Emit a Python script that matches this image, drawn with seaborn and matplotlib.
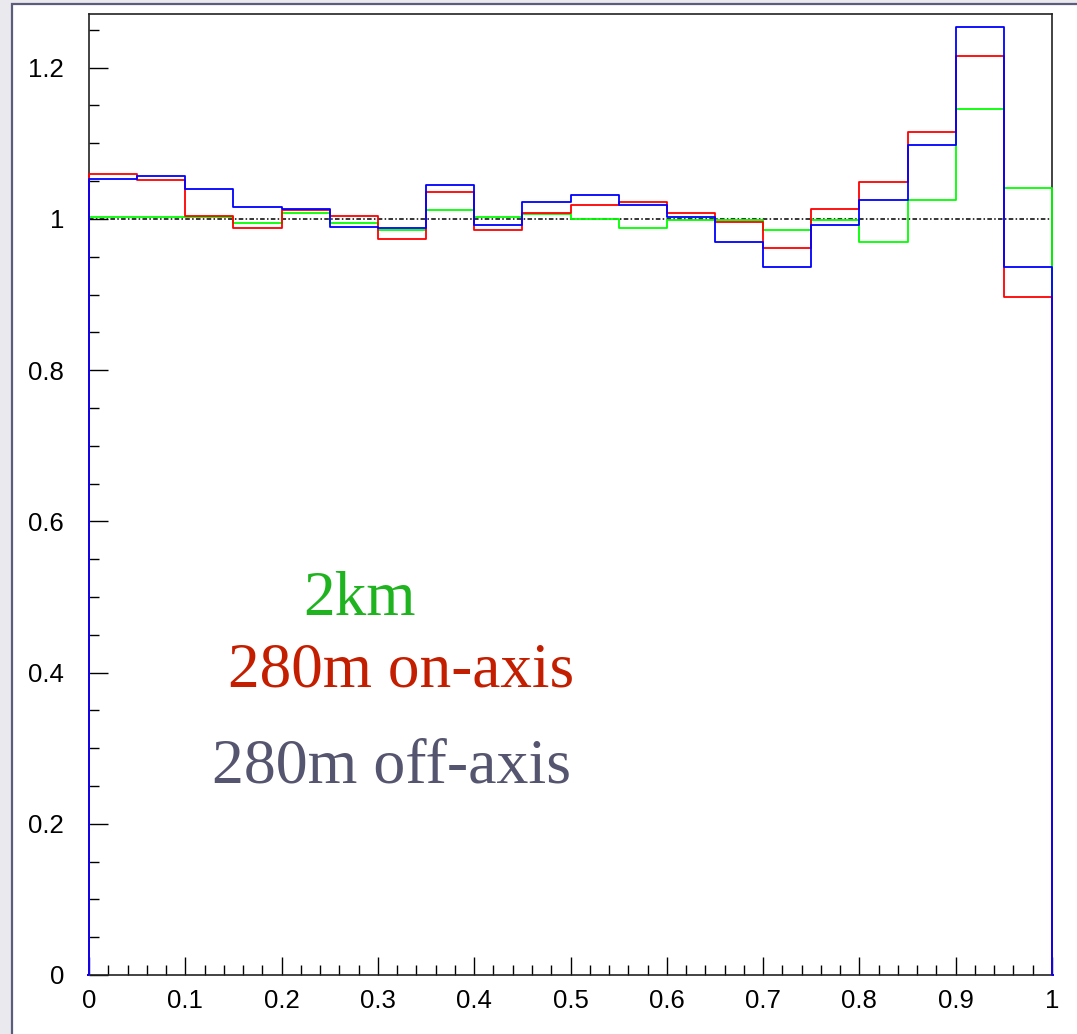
import numpy as np
import pandas as pd
import matplotlib
matplotlib.use("Agg")
import matplotlib.pyplot as plt
from matplotlib.patches import Rectangle
from matplotlib.ticker import MultipleLocator, FuncFormatter
import seaborn as sns

# ---- data (ratio per bin, 20 bins from 0 to 1) ----
bin_centers = [0.025, 0.075, 0.125, 0.175, 0.225, 0.275, 0.325, 0.375, 0.425, 0.475,
               0.525, 0.575, 0.625, 0.675, 0.725, 0.775, 0.825, 0.875, 0.925, 0.975]
ratio_2km = [1.003, 1.003, 1.003, 0.994, 1.008, 0.994, 0.985, 1.012, 1.003, 1.006,
             1.000, 0.988, 0.999, 0.999, 0.985, 0.998, 0.970, 1.025, 1.146, 1.041]
ratio_280m_on = [1.059, 1.051, 1.004, 0.988, 1.012, 1.004, 0.974, 1.035, 0.985, 1.008,
                 1.019, 1.022, 1.008, 0.996, 0.962, 1.013, 1.049, 1.115, 1.216, 0.897]
ratio_280m_off = [1.053, 1.057, 1.039, 1.016, 1.013, 0.989, 0.988, 1.045, 0.992, 1.023,
                  1.031, 1.019, 1.003, 0.970, 0.937, 0.992, 1.025, 1.098, 1.254, 0.937]
series_names = ["2km", "280m on-axis", "280m off-axis"]
line_colors = ["#00ff00", "#ff0000", "#0000ff"]
text_colors = ["#1fb41f", "#c41e00", "#555570"]
x_ticks = [0, 0.1, 0.2, 0.3, 0.4, 0.5, 0.6, 0.7, 0.8, 0.9, 1.0]
y_ticks = [0, 0.2, 0.4, 0.6, 0.8, 1.0, 1.2]

df = pd.DataFrame({"x": bin_centers * 3,
                   "ratio": ratio_2km + ratio_280m_on + ratio_280m_off,
                   "sample": [series_names[0]] * 20 + [series_names[1]] * 20 + [series_names[2]] * 20})

W, H = 1077, 1034
fig = plt.figure(figsize=(W / 100, H / 100), dpi=100)
fig.patch.set_facecolor("#e9e9ee")
# white slide panel with border
fig.patches.append(Rectangle((12 / W, -0.02), 1.05, 1 - 4 / H + 0.02, transform=fig.transFigure,
                             facecolor="white", edgecolor="#5c5c7c", linewidth=1.6, zorder=-10))

ax = fig.add_axes([89 / W, 1 - 975 / H, (1052 - 89) / W, (975 - 14) / H])
ax.set_zorder(5)
ax.set_facecolor("white")

for name, col in zip(series_names, line_colors):
    sub = df[df["sample"] == name]
    sns.histplot(data=sub, x="x", weights="ratio", bins=22, binrange=(-0.05, 1.05),
                 element="step", fill=False, color=col, linewidth=1.3, ax=ax)

# let the outline sit on top of the frame at x=0 and x=1
clip = Rectangle((-0.0018, -0.01), 1.0036, 1.02, transform=ax.transAxes,
                 facecolor="none", edgecolor="none")
ax.add_patch(clip)
for ln in ax.lines:
    ln.set_clip_path(clip)
    ln.set_zorder(3)

ax.axhline(1.0, color="black", linewidth=1.1, linestyle=(0, (3, 1.5, 1, 1.5)), zorder=1)

ax.set_xlim(0, 1)
ax.set_ylim(0, 1.271)
ax.set_xlabel("")
ax.set_ylabel("")

ax.set_xticks(x_ticks)
ax.set_yticks(y_ticks)
ax.xaxis.set_minor_locator(MultipleLocator(0.02))
ax.yaxis.set_minor_locator(MultipleLocator(0.05))
fmt = FuncFormatter(lambda v, p: f"{v:g}")
ax.xaxis.set_major_formatter(fmt)
ax.yaxis.set_major_formatter(fmt)

tick_font = ["Liberation Sans", "DejaVu Sans"]
ax.tick_params(axis="both", which="both", direction="in", top=False, right=False,
               color="black", width=1.0)
ax.tick_params(axis="x", which="major", length=13, pad=10, labelsize=18.5)
ax.tick_params(axis="x", which="minor", length=7)
ax.tick_params(axis="y", which="major", length=14, pad=18, labelsize=18.5)
ax.tick_params(axis="y", which="minor", length=7)
for lab in ax.get_xticklabels() + ax.get_yticklabels():
    lab.set_family(tick_font)

for s in ax.spines.values():
    s.set_color("#222222")
    s.set_linewidth(1.2)
    s.set_zorder(2)

serif = ["Liberation Serif", "DejaVu Serif"]
ax.text(0.2225, 0.476, series_names[0], color=text_colors[0], fontsize=45.5,
        family=serif, va="baseline", ha="left")
ax.text(0.1445, 0.382, series_names[1], color=text_colors[1], fontsize=45.5,
        family=serif, va="baseline", ha="left")
ax.text(0.1279, 0.255, series_names[2], color=text_colors[2], fontsize=46,
        family=serif, va="baseline", ha="left")

fig.savefig("out.png", dpi=100, facecolor=fig.get_facecolor())
